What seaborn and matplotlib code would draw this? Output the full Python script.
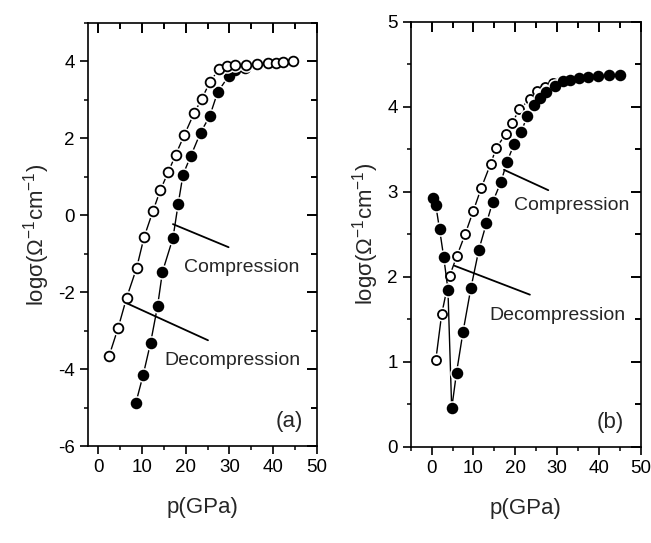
import matplotlib
matplotlib.use("Agg")
import matplotlib.pyplot as plt
import numpy as np
import seaborn as sns
from matplotlib.ticker import MultipleLocator

# panel (a): pressure (GPa) and log conductivity
a_open_p = [2.5, 4.6, 6.5, 8.8, 10.5, 12.5, 14.2, 16.0, 17.7, 19.7, 21.9, 23.7,
            25.5, 27.6, 29.5, 31.3, 33.8, 36.3, 38.8, 40.6, 42.3, 44.5]
a_open_s = [-3.66, -2.92, -2.15, -1.37, -0.57, 0.10, 0.65, 1.12, 1.57, 2.09, 2.65, 3.03,
            3.46, 3.80, 3.87, 3.90, 3.92, 3.94, 3.96, 3.97, 3.99, 4.01]
a_fill_p = [8.6, 10.3, 12.0, 13.6, 14.7, 17.1, 18.3, 19.4, 21.2, 23.4, 25.5, 27.3,
            29.8, 31.3, 33.6]
a_fill_s = [-4.89, -4.15, -3.31, -2.35, -1.47, -0.59, 0.30, 1.06, 1.55, 2.15, 2.58, 3.20,
            3.62, 3.78, 3.84]

# panel (b)
b_fill_p = [0.25, 1.0, 1.9, 2.9, 3.9, 4.8, 5.95, 7.5, 9.4, 11.3, 13.1, 14.6, 16.6, 18.0,
            19.7, 21.4, 22.9, 24.5, 26.0, 27.3, 29.5, 31.3, 33.2, 35.3, 37.3, 39.8, 42.4, 45.0]
b_fill_s = [2.93, 2.84, 2.56, 2.23, 1.85, 0.45, 0.87, 1.35, 1.87, 2.32, 2.63, 2.88, 3.12, 3.35,
            3.56, 3.71, 3.89, 4.02, 4.11, 4.18, 4.25, 4.30, 4.32, 4.34, 4.35, 4.36, 4.38, 4.38]
b_open_p = [1.0, 2.4, 4.3, 6.0, 8.0, 10.0, 11.9, 14.1, 15.5, 17.7, 19.3, 20.9, 23.5,
            25.3, 27.0, 29.0, 31.0]
b_open_s = [1.02, 1.56, 2.01, 2.24, 2.50, 2.78, 3.05, 3.33, 3.52, 3.68, 3.81, 3.97, 4.09,
            4.19, 4.24, 4.28, 4.31]

FONT = ["Liberation Sans", "DejaVu Sans"]
YLABEL = r"log$\sigma$($\Omega^{-1}$cm$^{-1}$)"

sns.set_theme(style="ticks")
plt.rcParams["font.family"] = FONT
plt.rcParams["mathtext.fontset"] = "custom"
plt.rcParams["mathtext.rm"] = "Liberation Sans"
plt.rcParams["mathtext.it"] = "Liberation Sans"
plt.rcParams["axes.linewidth"] = 1.2
plt.rcParams["axes.unicode_minus"] = False


def series(ax, p, s, filled, ms=7.0, z=2):
    # line first, then a white halo to leave a gap, then the symbol
    sns.lineplot(x=p, y=s, sort=False, estimator=None, ax=ax, color="black",
                 lw=1.0, zorder=z)
    ax.plot(p, s, ls="none", marker="o", ms=ms + 2.5, mfc="white", mec="white",
            zorder=z + 0.1)
    ax.plot(p, s, ls="none", marker="o", ms=ms,
            mfc="black" if filled else "white", mec="black", mew=1.3, zorder=z + 0.2)


def inner_ticks(ax, xlim, ylim, xstep, ystep):
    # top/right mirror ticks pointing inward (Origin style), in axes fractions
    fig = ax.figure
    bb = ax.get_position()
    w_px = bb.width * fig.get_figwidth() * fig.dpi
    h_px = bb.height * fig.get_figheight() * fig.dpi
    xs = np.arange(np.ceil(xlim[0] / xstep) * xstep, xlim[1] + 1e-9, xstep)
    ys = np.arange(np.ceil(ylim[0] / ystep) * ystep, ylim[1] + 1e-9, ystep)
    xmaj = [abs(x / (2 * xstep) - round(x / (2 * xstep))) < 1e-6 for x in xs]
    ymaj = [abs(y / (2 * ystep) - round(y / (2 * ystep))) < 1e-6 for y in ys]
    ax.vlines(xs, [1 - (10 if m else 6) / h_px for m in xmaj], 1,
              transform=ax.get_xaxis_transform(), colors="black", lw=1.4,
              clip_on=False, zorder=10)
    ax.hlines(ys, [1 - (10 if m else 6) / w_px for m in ymaj], 1,
              transform=ax.get_yaxis_transform(), colors="black", lw=1.4,
              clip_on=False, zorder=10)


def style_axes(ax, xlim, ylim, ymaj, ymin):
    ax.set_xlim(*xlim)
    ax.set_ylim(*ylim)
    ax.xaxis.set_major_locator(MultipleLocator(10))
    ax.xaxis.set_minor_locator(MultipleLocator(5))
    ax.yaxis.set_major_locator(MultipleLocator(ymaj))
    ax.yaxis.set_minor_locator(MultipleLocator(ymin))
    ax.tick_params(which="major", direction="out", length=5.5, width=1.2,
                   labelsize=13.5, colors="black", pad=4)
    ax.tick_params(which="minor", direction="out", length=3.2, width=1.1, colors="black")
    for sp in ax.spines.values():
        sp.set_visible(True)
        sp.set_color("black")
    inner_ticks(ax, xlim, ylim, 5, ymin)
    ax.set_xlim(*xlim)
    ax.set_ylim(*ylim)
    ax.set_xlabel("p(GPa)", fontsize=16, labelpad=15)
    ax.set_ylabel(YLABEL, fontsize=16, labelpad=4)


fig = plt.figure(figsize=(6.51, 5.43), dpi=100)
ax_a = fig.add_axes([0.1352, 0.1786, 0.3518, 0.779])
ax_b = fig.add_axes([0.6309, 0.1773, 0.3533, 0.7822])

# (a)
series(ax_a, a_fill_p, a_fill_s, True, z=2)
series(ax_a, a_open_p, a_open_s, False, z=3)
ax_a.plot([17.1, 29.8], [-0.23, -0.83], color="black", lw=1.3, zorder=5)
ax_a.text(19.6, -1.37, "Compression", fontsize=14, ha="left", va="center")
ax_a.plot([6.6, 25.1], [-2.29, -3.25], color="black", lw=1.3, zorder=5)
ax_a.text(15.1, -3.78, "Decompression", fontsize=14, ha="left", va="center")
ax_a.text(46.8, -5.35, "(a)", fontsize=16, ha="right", va="center")
style_axes(ax_a, (-2.3, 50), (-6, 5), 2, 1)

# (b)
series(ax_b, b_open_p, b_open_s, False, ms=6.5, z=2)
series(ax_b, b_fill_p, b_fill_s, True, z=3)
ax_b.plot([17.3, 27.9], [3.26, 3.02], color="black", lw=1.3, zorder=5)
ax_b.text(19.7, 2.84, "Compression", fontsize=14, ha="left", va="center")
ax_b.plot([5.5, 23.5], [2.13, 1.79], color="black", lw=1.3, zorder=5)
ax_b.text(13.7, 1.55, "Decompression", fontsize=14, ha="left", va="center")
ax_b.text(46.0, 0.29, "(b)", fontsize=16, ha="right", va="center")
style_axes(ax_b, (-5, 50), (0, 5), 1, 0.5)

fig.savefig("out.png", dpi=100)
